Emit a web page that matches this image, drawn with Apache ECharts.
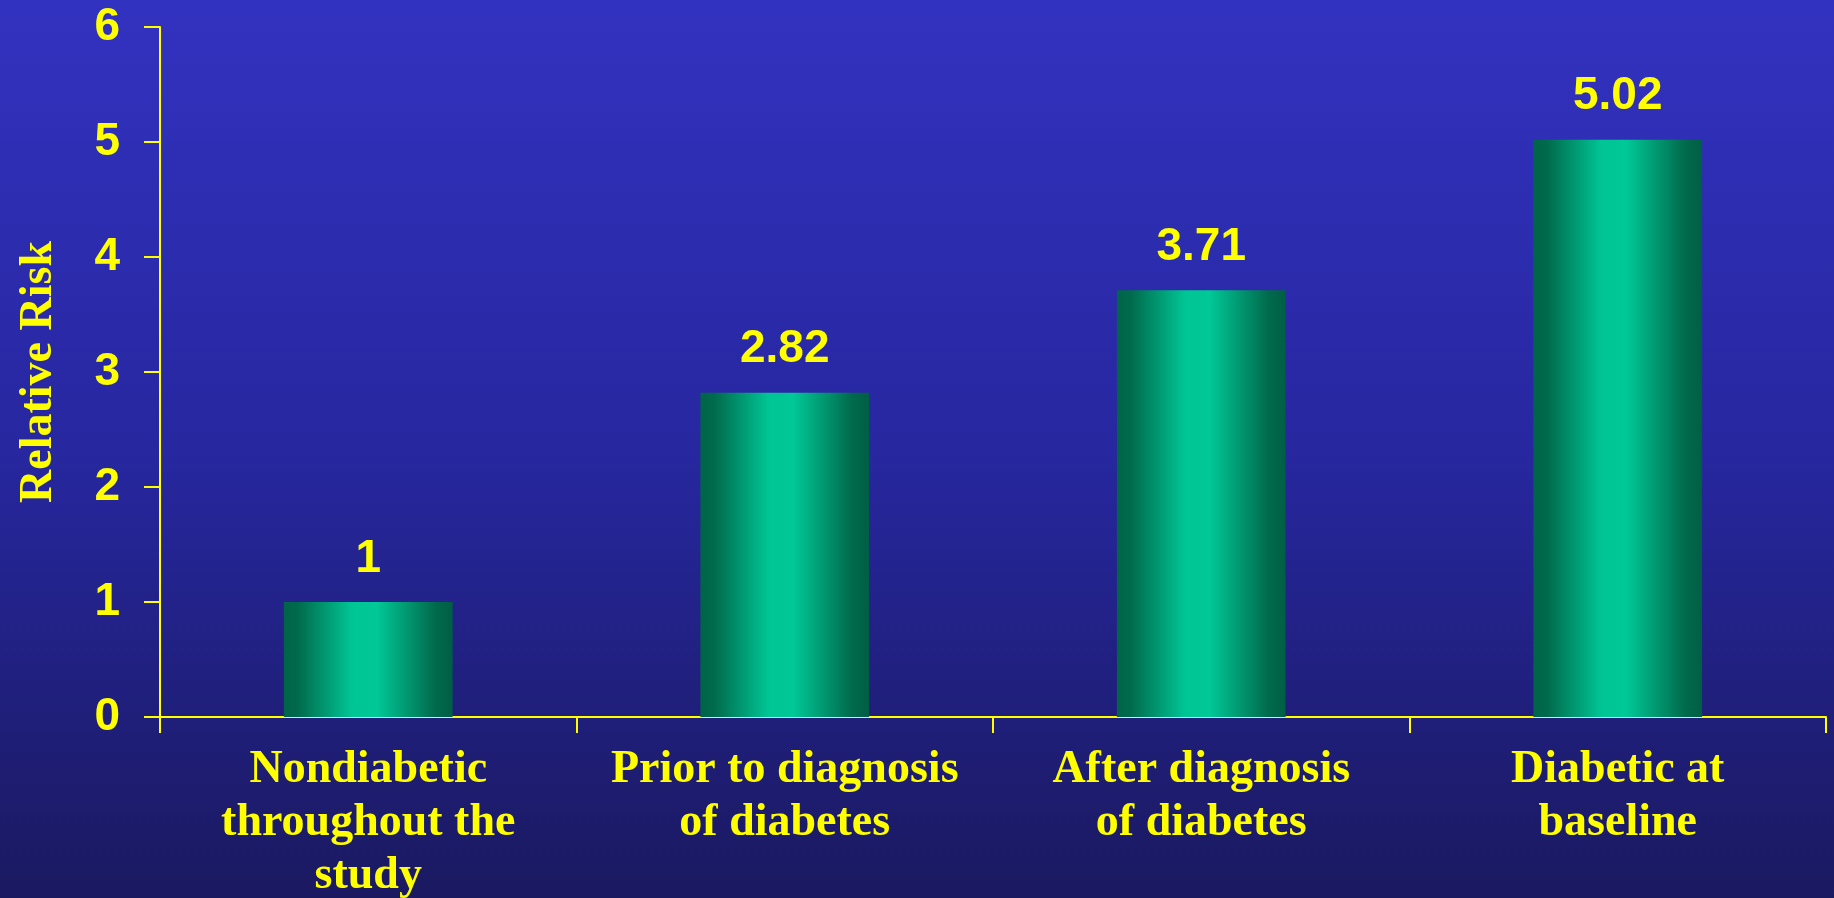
<!DOCTYPE html>
<html>
<head>
<meta charset="utf-8">
<style>
  html, body { margin: 0; padding: 0; }
  #chart { width: 1834px; height: 898px; }
</style>
<script src="https://cdn.jsdelivr.net/npm/echarts@6/dist/echarts.min.js"></script>
</head>
<body>
<div id="chart"></div>
<script>
// Relative risk by diabetes status
const categories = [
  'Nondiabetic\nthroughout the\nstudy',
  'Prior to diagnosis\nof diabetes',
  'After diagnosis\nof diabetes',
  'Diabetic at\nbaseline'
];
const relativeRisk = [1, 2.82, 3.71, 5.02];
const yTicks = [0, 1, 2, 3, 4, 5, 6];
const yAxisTitle = 'Relative Risk';

const YELLOW = '#ffff00';
const SANS = '"Liberation Sans", Arial, sans-serif';
const SERIF = '"Liberation Serif", "Times New Roman", serif';

const chart = echarts.init(document.getElementById('chart'), null, { renderer: 'canvas' });

// cylinder-like shading across each bar
const barFill = new echarts.graphic.LinearGradient(0, 0, 1, 0, [
  { offset: 0.00, color: '#006448' },
  { offset: 0.08, color: '#006a4c' },
  { offset: 0.40, color: '#00c494' },
  { offset: 0.55, color: '#00c896' },
  { offset: 0.90, color: '#006a4c' },
  { offset: 1.00, color: '#005e44' }
]);

chart.setOption({
  backgroundColor: new echarts.graphic.LinearGradient(0, 0, 0, 1, [
    { offset: 0, color: '#3232c0' },
    { offset: 0.5, color: '#2727a0' },
    { offset: 1, color: '#1a1960' }
  ]),
  animation: false,
  grid: {
    left: 160, right: 8, top: 27, bottom: 181,
    containLabel: false,
    outerBoundsMode: 'none'
  },
  xAxis: {
    type: 'category',
    data: categories,
    axisLine: { lineStyle: { color: YELLOW, width: 2 } },
    axisTick: { show: true, length: 16, lineStyle: { color: YELLOW, width: 2 } },
    axisLabel: {
      interval: 0,
      color: YELLOW,
      fontFamily: SERIF,
      fontWeight: 'bold',
      fontSize: 46,
      lineHeight: 53,
      margin: 27
    }
  },
  yAxis: {
    type: 'value',
    min: yTicks[0],
    max: yTicks[yTicks.length - 1],
    interval: 1,
    name: yAxisTitle,
    nameLocation: 'middle',
    nameGap: 98,
    nameRotate: 90,
    nameTextStyle: {
      color: YELLOW,
      fontFamily: SERIF,
      fontWeight: 'bold',
      fontSize: 46
    },
    splitLine: { show: false },
    axisLine: { show: true, lineStyle: { color: YELLOW, width: 2 } },
    axisTick: { show: true, length: 16, lineStyle: { color: YELLOW, width: 2 } },
    axisLabel: {
      color: YELLOW,
      fontFamily: SANS,
      fontWeight: 'bold',
      fontSize: 46,
      margin: 40
    }
  },
  series: [{
    type: 'bar',
    data: relativeRisk,
    barWidth: '40.5%',
    itemStyle: { color: barFill },
    label: {
      show: true,
      position: 'top',
      distance: 20,
      color: YELLOW,
      fontFamily: SANS,
      fontWeight: 'bold',
      fontSize: 46
    }
  }]
});
</script>
</body>
</html>
